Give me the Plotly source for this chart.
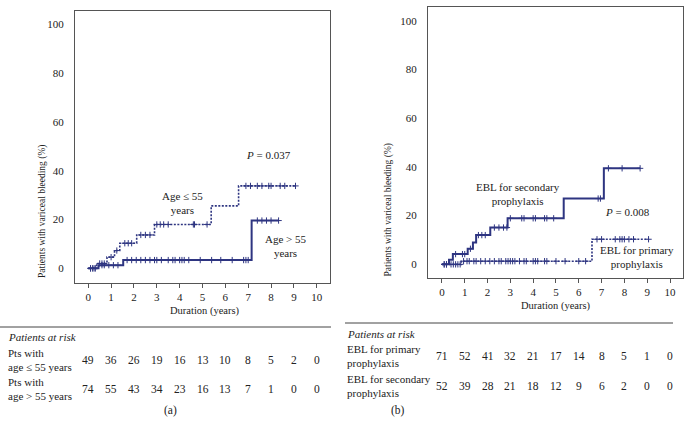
import numpy as np
import plotly.graph_objects as go

W, H = 689, 438
NAVY = "#2e3581"
FONT = "Liberation Serif"

# ---------------- data: panel (a) ----------------
le55_t = [0, 0.37, 0.82, 1.15, 1.38, 2.12, 2.90, 5.38, 6.58]
le55_v = [0, 2.0, 4.6, 7.3, 10.3, 13.7, 18.0, 25.6, 33.8]
le55_end = 9.07
le55_cens = [0.1, 0.2, 0.3, 0.5, 0.6, 0.7, 1.0, 1.25, 1.6, 1.75, 1.9, 2.3, 2.5, 2.7,
             3.0, 3.15, 3.3, 3.5, 4.6, 4.65, 5.2, 6.9, 7.1, 7.4, 7.6, 7.9, 8.0, 8.4, 8.6, 9.07]

gt55_t = [0, 0.45, 1.53, 7.15]
gt55_v = [0, 1.3, 3.4, 19.6]
gt55_end = 8.33
gt55_cens = [0.1, 0.2, 0.3, 0.6, 0.7, 0.9, 1.1, 1.3, 1.7, 1.9, 2.1, 2.3, 2.5, 2.7, 2.9, 3.0,
             3.2, 3.5, 3.7, 3.8, 4.0, 4.1, 4.2, 4.4, 4.9, 5.4, 5.8, 6.3, 6.8, 6.9, 7.0,
             7.4, 7.6, 7.8, 8.0, 8.33]

# ---------------- data: panel (b) ----------------
sec_t = [0, 0.31, 0.48, 1.13, 1.36, 1.50, 2.12, 2.88, 5.34, 7.10]
sec_v = [0, 1.9, 4.2, 6.4, 9.0, 12.0, 15.1, 18.9, 27.0, 39.4]
sec_end = 8.69
sec_cens = [0.1, 0.2, 0.6, 0.9, 1.0, 1.25, 1.6, 1.75, 1.9, 2.3, 2.5, 2.7, 2.85,
            3.0, 3.5, 3.6, 4.0, 4.1, 4.5, 4.6, 4.9, 6.85, 6.95, 7.3, 7.9, 8.69]

pri_t = [0, 0.85, 6.58]
pri_v = [0, 1.3, 10.3]
pri_end = 9.06
pri_cens = [0.1, 0.2, 0.4, 0.5, 0.6, 0.7, 0.8, 0.95, 1.1, 1.2, 1.4, 1.5, 1.7, 1.9, 2.1, 2.3,
            2.5, 2.6, 2.8, 2.9, 3.0, 3.1, 3.2, 3.4, 3.6, 3.7, 4.0, 4.1, 4.2, 4.5, 4.6, 5.0,
            5.4, 6.0, 6.3, 6.8, 7.0, 7.6, 7.8, 7.9, 8.0, 8.2, 8.4, 9.06]

years = list(range(0, 11))
risk_a_label = ["Pts with<br>age ≤ 55 years", "Pts with<br>age > 55 years"]
risk_a = [[49, 36, 26, 19, 16, 13, 10, 8, 5, 2, 0],
          [74, 55, 43, 34, 23, 16, 13, 7, 1, 0, 0]]
risk_b_label = ["EBL for primary<br>prophylaxis", "EBL for secondary<br>prophylaxis"]
risk_b = [[71, 52, 41, 32, 21, 17, 14, 8, 5, 1, 0],
          [52, 39, 28, 21, 18, 12, 9, 6, 2, 0, 0]]


def px_x(p):
    return p / W


def px_y(p):
    return 1 - p / H


def step_at(ts, vs, t):
    i = np.searchsorted(np.array(ts), t, side="right") - 1
    return np.array(vs)[i]


fig = go.Figure()


def add_curve(ts, vs, end, cens, xa, ya, dash, width):
    xs = list(ts) + [end]
    ys = list(vs) + [vs[-1]]
    fig.add_trace(go.Scatter(x=xs, y=ys, mode="lines", line=dict(color=NAVY, width=width, dash=dash, shape="hv"),
                             xaxis=xa, yaxis=ya, hoverinfo="skip", showlegend=False))
    cy = step_at(ts, vs, np.array(cens))
    fig.add_trace(go.Scatter(x=cens, y=cy, mode="markers",
                             marker=dict(symbol="cross-thin", size=4.5, line=dict(color=NAVY, width=1)),
                             xaxis=xa, yaxis=ya, hoverinfo="skip", showlegend=False))


add_curve(le55_t, le55_v, le55_end, le55_cens, "x", "y", "2px,1.5px", 1.6)
add_curve(gt55_t, gt55_v, gt55_end, gt55_cens, "x", "y", "solid", 2)
add_curve(pri_t, pri_v, pri_end, pri_cens, "x2", "y2", "2px,1.5px", 1.6)
add_curve(sec_t, sec_v, sec_end, sec_cens, "x2", "y2", "solid", 2)

axis_common = dict(showgrid=False, zeroline=False, showline=True, linecolor="#555", linewidth=1,
                   mirror=True, tickfont=dict(family=FONT, size=11, color="#222"))

fig.update_layout(
    width=W, height=H, margin=dict(l=0, r=0, t=0, b=0),
    paper_bgcolor="white", plot_bgcolor="white",
    xaxis=dict(domain=[px_x(75), px_x(330)], range=[-0.58, 10.58], tickvals=years,
               ticks="outside", ticklen=4, tickcolor="#555", anchor="y", **axis_common),
    yaxis=dict(domain=[px_y(283), px_y(11)], range=[-6, 105.5], tickvals=[0, 20, 40, 60, 80, 100],
               ticks="", anchor="x", ticklabelstandoff=8, **axis_common),
    xaxis2=dict(domain=[px_x(428), px_x(683)], range=[-0.61, 10.57], tickvals=years,
                ticks="outside", ticklen=4, tickcolor="#555", anchor="y2", **axis_common),
    yaxis2=dict(domain=[px_y(278), px_y(7)], range=[-5.6, 105.6], tickvals=[0, 20, 40, 60, 80, 100],
                ticks="", anchor="x2", ticklabelstandoff=8, **axis_common),
)

ann = []


def txt(x, y, text, xref="paper", size=11.5, italic=False, xanchor="center", align="center"):
    ann.append(dict(x=x, y=y, xref=xref, yref="paper", text=text, showarrow=False,
                    xanchor=xanchor, yanchor="middle", align=align,
                    font=dict(family=FONT, size=size, color="#222",
                              style="italic" if italic else "normal")))


# axis titles
ann.append(dict(x=px_x(35), y=px_y(143), xref="paper", yref="paper", text="Patients with variceal bleeding (%)",
                textangle=-90, showarrow=False, font=dict(family=FONT, size=9.5, color="#222")))
ann.append(dict(x=px_x(388), y=px_y(142), xref="paper", yref="paper", text="Patients with variceal bleeding (%)",
                textangle=-90, showarrow=False, font=dict(family=FONT, size=9.5, color="#222")))
txt(px_x(205), px_y(311), "Duration (years)", size=10.5)
txt(px_x(556), px_y(306), "Duration (years)", size=10.5)

# curve labels
txt(px_x(182), px_y(203), "Age ≤ 55<br>years", size=11)
txt(px_x(268), px_y(155), "<i>P</i> = 0.037", size=11)
txt(px_x(286), px_y(246), "Age > 55<br>years", size=11)
txt(px_x(518), px_y(194), "EBL for secondary<br>prophylaxis", size=11)
txt(px_x(627), px_y(212), "<i>P</i> = 0.008", size=11)
txt(px_x(637), px_y(257), "EBL for primary<br>prophylaxis", size=11)

# risk tables
txt(px_x(6), px_y(337), "Patients at risk", size=11, italic=True, xanchor="left", align="left")
txt(px_x(345), px_y(334), "Patients at risk", size=11, italic=True, xanchor="left", align="left")
rows_a_y = [360, 389]
rows_b_y = [356, 386]
for lab, vals, yy in zip(risk_a_label, risk_a, rows_a_y):
    txt(px_x(6), px_y(yy), lab, size=11, xanchor="left", align="left")
    for t, v in zip(years, vals):
        txt(t, px_y(yy), str(v), xref="x")
for lab, vals, yy in zip(risk_b_label, risk_b, rows_b_y):
    txt(px_x(345), px_y(yy), lab, size=11, xanchor="left", align="left")
    for t, v in zip(years, vals):
        txt(t, px_y(yy), str(v), xref="x2")
txt(px_x(170), px_y(410), "(a)")
txt(px_x(398), px_y(410), "(b)")

fig.update_layout(annotations=ann)

fig.update_layout(shapes=[
    dict(type="line", xref="paper", yref="paper", x0=0, x1=px_x(331), y0=px_y(327), y1=px_y(327),
         line=dict(color="#444", width=1)),
    dict(type="line", xref="paper", yref="paper", x0=px_x(345), x1=px_x(673), y0=px_y(323), y1=px_y(323),
         line=dict(color="#444", width=1)),
])

fig.write_html("out.html", config={"displayModeBar": False},
               post_script="document.body.style.margin='0px';")
